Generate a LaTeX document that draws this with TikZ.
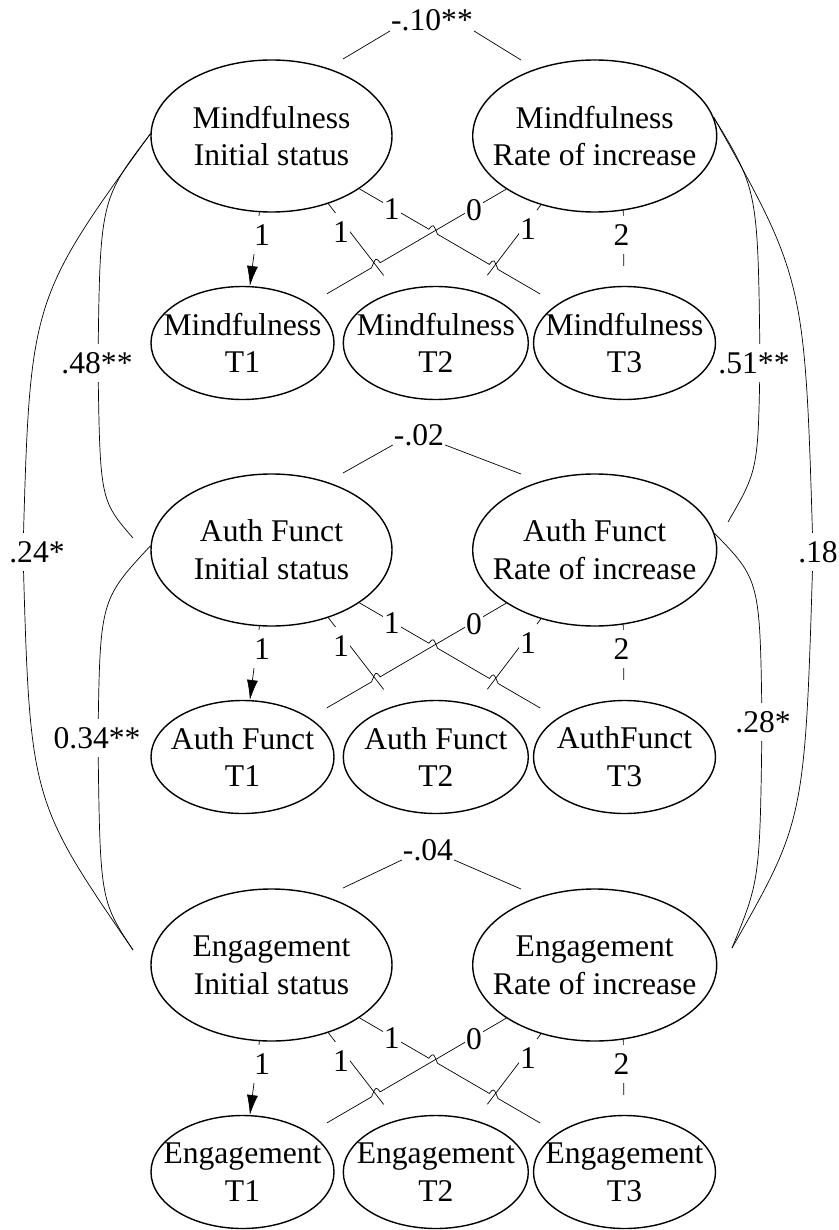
\documentclass[tikz,border=0pt]{standalone}
\usepackage{fontspec}
\setmainfont{Liberation Serif}
\usetikzlibrary{shapes.geometric,calc,arrows.meta}

\begin{document}
\begin{tikzpicture}[x=1pt,y=-1pt,font=\fontsize{31.6}{37.7}\selectfont,
  latent/.style={draw,ellipse,line width=1.4pt,inner sep=0pt,minimum height=152pt},
  indic/.style={draw,ellipse,line width=1.4pt,inner sep=0pt,minimum height=113pt},
  link/.style={line width=0.7pt},
  coef/.style={fill=white,inner xsep=1pt,inner ysep=0pt,minimum height=38pt},
  corr/.style={inner xsep=1pt,inner ysep=0pt,anchor=base}]
\useasboundingbox (0,0) rectangle (838,1230);
\foreach \b/\dy/\na/\nc/\cor/\cx in {1/0/Mindfulness/Mindfulness/-.10**/432,
  2/414/Auth Funct/AuthFunct/-.02/419,
  3/829/Engagement/Engagement/-.04/428}{
  % edit here for the ellipses
  \node[latent,minimum width=241pt,label={[align=center]center:\na\\Initial status}] (is\b) at (271.5,136+\dy) {};
  \node[latent,minimum width=244pt,label={[align=center]center:\na\\Rate of increase}] (ri\b) at (594.7,136+\dy) {};
  \node[indic,minimum width=183pt,label={[align=center]center:\na\\T1}] (ta\b) at (242.5,343+\dy) {};
  \node[indic,minimum width=185pt,label={[align=center]center:\na\\T2}] (tb\b) at (435.8,343+\dy) {};
  \node[indic,minimum width=182pt,label={[align=center]center:\nc\\T3}] (tc\b) at (624.5,343+\dy) {};
  % edit here for the covariance on top
  \node[corr] (k\b) at (\cx,31+\dy) {\cor};
  \coordinate (ka\b) at (343,59+\dy);
  \coordinate (kb\b) at (521,60+\dy);
  \draw[link] (ka\b) -- (k\b.base west);
  \draw[link] (k\b.base east) -- (kb\b);
  % crossings of the loadings, with the hops
  \coordinate (hx\b) at (intersection of is\b.329--{tc\b} and ri\b.211--ta\b);
  \coordinate (hy\b) at (intersection of is\b.310--{tb\b} and ri\b.211--ta\b);
  \coordinate (hz\b) at (intersection of is\b.329--{tc\b} and ri\b.232--tb\b);
  \coordinate (xa\b) at ($(hx\b)!5pt!(is\b.329)$);
  \coordinate (xb\b) at ($(hx\b)!5pt!(tc\b)$);
  \coordinate (ya\b) at ($(hy\b)!5pt!(ri\b.211)$);
  \coordinate (yb\b) at ($(hy\b)!5pt!(ta\b)$);
  \coordinate (za\b) at ($(hz\b)!5pt!(is\b.329)$);
  \coordinate (zb\b) at ($(hz\b)!5pt!(tc\b)$);
  \coordinate (xc\b) at ($(hx\b)+(0,-8)$);
  \coordinate (yc\b) at ($(hy\b)+(0,-8)$);
  \coordinate (zc\b) at ($(hz\b)+(0,-8)$);
  \draw[link,-{Latex[length=20pt,width=11pt]}] (is\b.261) -- (ta\b);
  \draw[link,shorten >=20pt] (is\b.310) -- (tb\b);
  \draw[link,shorten >=20pt] (is\b.329) -- (xa\b) .. controls (xc\b) .. (xb\b)
    -- (za\b) .. controls (zc\b) .. (zb\b) -- (tc\b);
  \draw[link,shorten >=20pt] (ri\b.211) -- (ya\b) .. controls (yc\b) .. (yb\b) -- (ta\b);
  \draw[link,shorten >=20pt] (ri\b.232) -- (tb\b);
  \draw[link,shorten >=20pt] (ri\b.291) -- (tc\b);
  % edit here for the fixed loadings
  \node[coef] (la\b) at (262,235+\dy) {1};
  \node[coef] (lb\b) at (341,232+\dy) {1};
  \node[coef] (lc\b) at (391.7,209+\dy) {1};
  \node[coef] (ld\b) at (474,210+\dy) {0};
  \node[coef] (le\b) at (528,229+\dy) {1};
  \node[coef] (lf\b) at (621.5,235+\dy) {2};
}
% correlations between the growth factors
\coordinate (cl2) at (133,538);
\coordinate (cl3) at (133,950);
\coordinate (cr2) at (728,522);
\coordinate (cr3) at (732,948);
\coordinate (m48) at (98,363);
\coordinate (m24) at (23,552);
\coordinate (m34) at (98,738);
\coordinate (m51) at (760,363);
\coordinate (m18) at (813,552);
\coordinate (m28) at (762,722);
\draw[link] (is1.179) .. controls (100,200) .. (m48) .. controls (100,500) .. (cl2);
\draw[link] (is1.179) .. controls (30,300) .. (m24) .. controls (30,800) .. (cl3);
\draw[link] (is2.178) .. controls (100,600) .. (m34) .. controls (100,900) .. (cl3);
\draw[link] (ri1.9) .. controls (758,190) .. (m51) .. controls (758,470) .. (cr2);
\draw[link] (ri1.9) .. controls (805,280) .. (m18) .. controls (805,820) .. (cr3);
\draw[link] (ri2.8) .. controls (760,580) .. (m28) .. controls (760,880) .. (cr3);
\node[coef] (c48) at (97,363) {.48**};
\node[coef] (c24) at (37,552) {.24*};
\node[coef] (c34) at (97,738) {0.34**};
\node[coef] (c51) at (754,363) {.51**};
\node[coef] (c18) at (818,552) {.18};
\node[coef] (c28) at (763,722) {.28*};
\end{tikzpicture}
\end{document}
